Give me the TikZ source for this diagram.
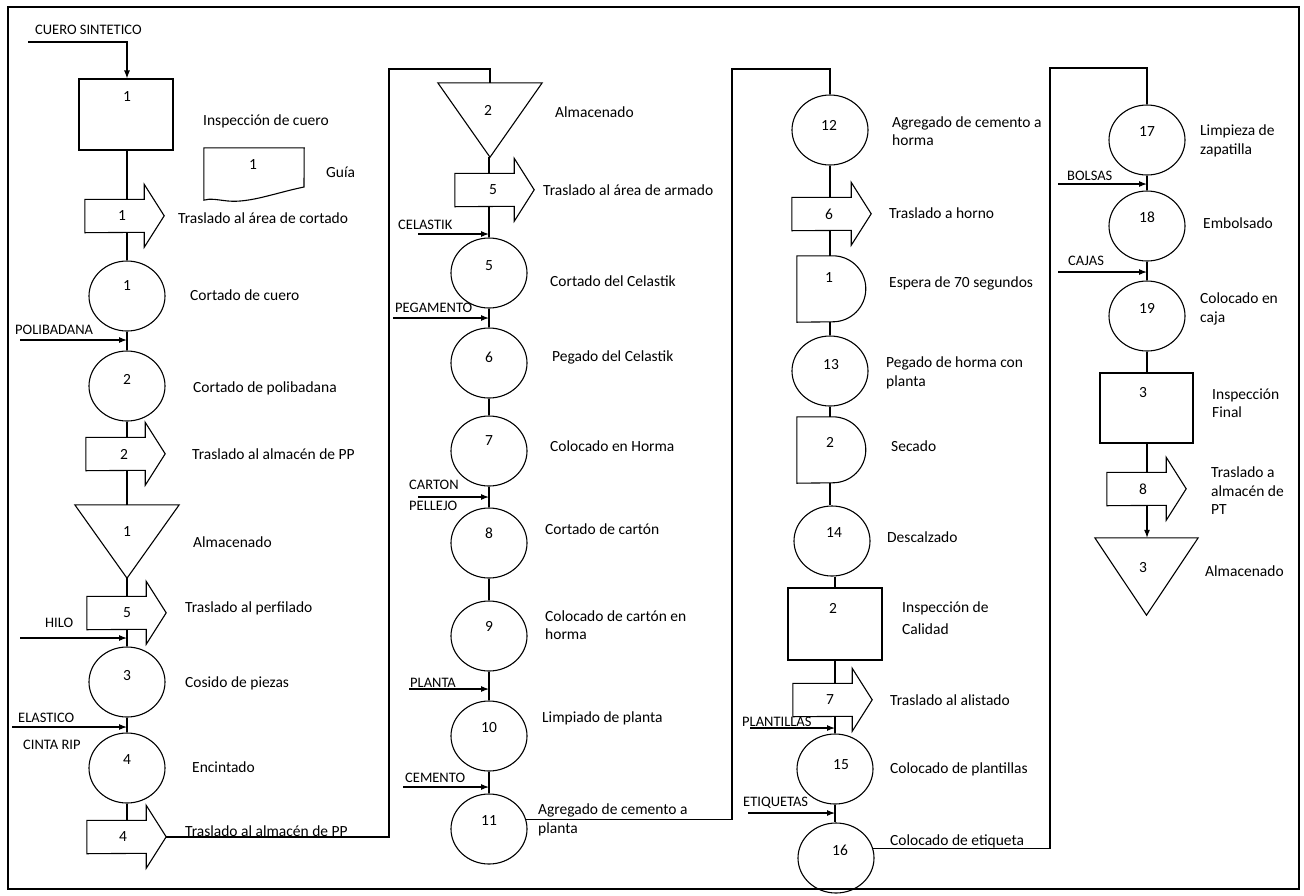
\documentclass[tikz,border=0pt]{standalone}
\usepackage{fontspec}
\setmainfont{Carlito}
\usetikzlibrary{arrows.meta,shapes.geometric,calc}

\newcommand{\flowfont}{\fontsize{15.5}{18.5}\selectfont}
\newcommand{\capfont}{\fontsize{14.5}{17}\selectfont}

\tikzset{
  flow/.style={draw=black, line width=1.1pt},
  frame/.style={draw=black, line width=1.3pt},
  inarrow/.style={flow, -{Latex[length=8pt,width=6pt]}},
  opcirc/.style={ellipse, draw=black, line width=1.1pt, minimum width=76pt, minimum height=70pt, inner sep=0pt},
  inspbox/.style={rectangle, draw=black, line width=1.1pt, minimum width=94pt, minimum height=71pt, inner sep=0pt},
  abody/.style={rectangle, draw=none, minimum width=59pt, minimum height=33pt, inner sep=0pt},
  sbox/.style={rectangle, draw=none, inner sep=0pt},
  dbox/.style={rectangle, draw=none, minimum width=69pt, minimum height=66pt, inner sep=0pt},
  docbox/.style={rectangle, draw=none, minimum width=100pt, minimum height=52pt, inner sep=0pt},
  txt/.style={anchor=west, inner sep=0pt, align=left, font=\flowfont},
  captxt/.style={anchor=west, inner sep=0pt, align=left, font=\capfont},
  num/.style={inner sep=0pt, font=\flowfont},
}

% transport arrow: name, body centre x, centre y, number x, number
\newcommand{\movearrow}[5]{%
  \node[abody] (#1) at (#2,#3) {};
  \draw[flow] (#1.north west) -- (#1.north east) -- ++(0,-15) -- ++(20,31.5)
    -- ++(-20,31.5) -- ++(0,-15) -- (#1.south west) -- cycle;
  \coordinate (#1 tip) at ([xshift=20pt]#1.east);
  \node[num] at (#4,#3) {#5};
}
% storage triangle: name, centre x, centre y, width, height
\newcommand{\storeshape}[5]{%
  \node[sbox, minimum width=#4pt, minimum height=#5pt] (#1) at (#2,#3) {};
  \draw[flow] (#1.north west) -- (#1.north east) -- (#1.south) -- cycle;
}
% delay shape: name, centre x, centre y
\newcommand{\delayshape}[3]{%
  \node[dbox] (#1) at (#2,#3) {};
  \draw[flow] (#1.north west) -- ++(36,0) arc[start angle=-90, end angle=90, radius=33]
    -- (#1.south west) -- cycle;
}

\begin{document}
\begin{tikzpicture}[x=1pt,y=-1pt]
\useasboundingbox (0,0) rectangle (1304,895);
\draw[frame] (8,7) rectangle (1299,889);

% column axes
\coordinate (ax1) at (127,0);
\coordinate (ax2) at (489,0);
\coordinate (ax3) at (830,0);
\coordinate (ax3b) at (835,0);
\coordinate (ax4) at (1147,0);

% ---------------- column 1 ----------------
\node[captxt] (lCuero) at (35,30) {CUERO SINTETICO};
\coordinate (inCuero) at (28,42);
\node[inspbox] (box1) at (126,114.5) {};
\node[num] at (127,97) {1};
\node[txt] at (203,121) {Inspección de cuero};

\node[docbox] (doc1) at (254,174) {};
\draw[flow] (doc1.north west) -- (doc1.north east) -- (304,187)
  .. controls (275,193) and (250,203) .. (228,201)
  .. controls (218,200) and (210,198) .. (doc1.south west) -- cycle;
\node[num] at (253,165) {1};
\node[txt] at (326,172) {Guía};

\movearrow{a1}{114.5}{216}{122}{1}
\node[txt] at (178,218) {Traslado al área de cortado};

\node[opcirc] (c1) at (127,296) {};
\node[num] at (127,286) {1};
\node[txt] at (190,295) {Cortado de cuero};

\node[captxt] at (15,330) {POLIBADANA};
\coordinate (inPoli) at (20,340);

\node[opcirc] (c2) at (127,386) {};
\node[num] at (127,379) {2};
\node[txt] at (193,388) {Cortado de polibadana};

\movearrow{a2}{115.5}{454}{124}{2}
\node[txt] at (192,454) {Traslado al almacén de PP};

\storeshape{s1}{127}{541.5}{104}{73}
\node[num] at (127,532) {1};
\node[txt] at (193,542) {Almacenado};

\movearrow{a3}{116.5}{613}{127}{5}
\node[txt] at (185,608) {Traslado al perfilado};

\node[captxt] at (45,623) {HILO};
\coordinate (inHilo) at (20,638);

\node[opcirc] (c3) at (127,682) {};
\node[num] at (127,676) {3};
\node[txt] at (185,683) {Cosido de piezas};

\node[captxt] at (18,718) {ELASTICO};
\coordinate (inElas) at (12,727);
\node[captxt] at (23,745) {CINTA RIP};

\node[opcirc] (c4) at (127,768) {};
\node[num] at (127,760) {4};
\node[txt] at (192,767) {Encintado};

\movearrow{a4}{116.5}{837}{123}{4}
\node[txt] at (185,831) {Traslado al almacén de PP};
\coordinate (loopA) at (389,69);

% ---------------- column 2 ----------------
\storeshape{s2}{490}{120}{104}{74}
\node[num] at (488,110) {2};
\node[txt] at (555,112) {Almacenado};

\movearrow{a5}{484.5}{190}{493}{5}
\node[txt] at (543,190) {Traslado al área de armado};

\node[captxt] at (398,225) {CELASTIK};
\coordinate (inCel) at (418,234);

\node[opcirc] (c5) at (489,273) {};
\node[num] at (489,266) {5};
\node[txt] at (550,281) {Cortado del Celastik};

\node[captxt] at (395,308) {PEGAMENTO};
\coordinate (inPeg) at (393,318);

\node[opcirc] (c6) at (489,363) {};
\node[num] at (489,357) {6};
\node[txt] at (552,357) {Pegado del Celastik};

\node[opcirc] (c7) at (489,451) {};
\node[num] at (489,441) {7};
\node[txt] at (550,446) {Colocado en Horma};

\node[captxt] at (409,485) {CARTON};
\node[captxt] at (409,506) {PELLEJO};
\coordinate (inCart) at (418,497);

\node[opcirc] (c8) at (489,543) {};
\node[num] at (489,533) {8};
\node[txt] at (545,529) {Cortado de cartón};

\node[opcirc] (c9) at (489,636) {};
\node[num] at (489,626) {9};
\node[txt] at (545,625) {Colocado de cartón en\\horma};

\node[captxt] at (410,683) {PLANTA};
\coordinate (inPlan) at (409,689);

\node[opcirc] (c10) at (489,736) {};
\node[num] at (489,728) {10};
\node[txt] at (542,718) {Limpiado de planta};

\node[captxt] at (405,778) {CEMENTO};
\coordinate (inCem) at (403,787);

\node[opcirc] (c11) at (489,829) {};
\node[num] at (489,820) {11};
\node[txt] at (538,820) {Agregado de cemento a\\planta};
\coordinate (loopB) at (732,69);

% ---------------- column 3 ----------------
\node[opcirc] (c12) at (830,130) {};
\node[num] at (829,125) {12};
\node[txt] at (892,131) {Agregado de cemento a\\horma};

\movearrow{a6}{821.5}{214}{829}{6}
\node[txt] at (889,213) {Traslado a horno};

\delayshape{d1}{831.5}{289}
\node[num] at (829,278) {1};
\node[txt] at (889,283) {Espera de 70 segundos};

\node[opcirc] (c13) at (830,371) {};
\node[num] at (831,365) {13};
\node[txt] at (886,373) {Pegado de horma con\\planta};

\delayshape{d2}{831.5}{450}
\node[num] at (830,442) {2};
\node[txt] at (891,446) {Secado};

\node[opcirc] (c14) at (832,541) {};
\node[num] at (834,533) {14};
\node[txt] at (887,537) {Descalzado};

\node[inspbox, minimum height=72pt] (box2) at (835,624) {};
\node[num] at (833,608) {2};
\node[txt] at (902,618) {Inspección de\\[3pt]Calidad};

\movearrow{a7}{822.5}{700}{830}{7}
\node[txt] at (890,700) {Traslado al alistado};

\node[captxt] at (742,722) {PLANTILLAS};
\coordinate (inPlt) at (750,728);

\node[opcirc] (c15) at (835,769) {};
\node[num] at (841,765) {15};
\node[txt] at (890,769) {Colocado de plantillas};

\node[captxt] at (743,803) {ETIQUETAS};
\coordinate (inEti) at (748,813);

\node[opcirc] (c16) at (836,858) {};
\node[num] at (840,850) {16};
\node[txt] at (890,841) {Colocado de etiqueta};
\coordinate (loopC) at (1050,68);

% ---------------- column 4 ----------------
\node[opcirc] (c17) at (1147,140) {};
\node[num] at (1147,132) {17};
\node[txt] at (1200,141) {Limpieza de\\zapatilla};

\node[captxt] at (1067,176) {BOLSAS};
\coordinate (inBol) at (1058,184);

\node[opcirc] (c18) at (1147,226) {};
\node[num] at (1147,217) {18};
\node[txt] at (1203,223) {Embolsado};

\node[captxt] at (1068,261) {CAJAS};
\coordinate (inCaj) at (1058,272);

\node[opcirc] (c19) at (1147,316) {};
\node[num] at (1147,308) {19};
\node[txt] at (1200,309) {Colocado en\\caja};

\node[inspbox, minimum width=93pt, minimum height=70pt] (box3) at (1146.5,408) {};
\node[num] at (1143,393) {3};
\node[txt] at (1212,403) {Inspección\\Final};

\movearrow{a8}{1136.5}{489}{1143}{8}
\node[txt] at (1211,491) {Traslado a\\almacén de\\PT};

\storeshape{s3}{1146.5}{576.5}{103}{77}
\node[num] at (1143,568) {3};
\node[txt] at (1205,571) {Almacenado};

% ---------------- connectors ----------------
\draw[inarrow] (inCuero) -| (box1.north -| ax1);
\draw[flow] (box1.south -| ax1) -- (a1.north -| ax1);
\draw[flow] (a1.south -| ax1) -- (c1.north -| ax1);
\draw[flow] (c1.south -| ax1) -- (c2.north -| ax1);
\draw[inarrow] (inPoli) -- (inPoli -| ax1);
\draw[flow] (c2.south -| ax1) -- (a2.north -| ax1);
\draw[flow] (a2.south -| ax1) -- (s1.north -| ax1);
\draw[flow] (s1.south -| ax1) -- (a3.north -| ax1);
\draw[flow] (a3.south -| ax1) -- (c3.north -| ax1);
\draw[inarrow] (inHilo) -- (inHilo -| ax1);
\draw[flow] (c3.south -| ax1) -- (c4.north -| ax1);
\draw[inarrow] (inElas) -- (inElas -| ax1);
\draw[flow] (c4.south -| ax1) -- (a4.north -| ax1);
\draw[flow] (a4 tip) -| (loopA) -| (s2.north);

\draw[flow] (s2.south -| ax2) -- (a5.north -| ax2);
\draw[flow] (a5.south -| ax2) -- (c5.north -| ax2);
\draw[inarrow] (inCel) -- (inCel -| ax2);
\draw[flow] (c5.south -| ax2) -- (c6.north -| ax2);
\draw[inarrow] (inPeg) -- (inPeg -| ax2);
\draw[flow] (c6.south -| ax2) -- (c7.north -| ax2);
\draw[flow] (c7.south -| ax2) -- (c8.north -| ax2);
\draw[inarrow] (inCart) -- (inCart -| ax2);
\draw[flow] (c8.south -| ax2) -- (c9.north -| ax2);
\draw[flow] (c9.south -| ax2) -- (c10.north -| ax2);
\draw[inarrow] (inPlan) -- (inPlan -| ax2);
\draw[flow] (c10.south -| ax2) -- (c11.north -| ax2);
\draw[inarrow] (inCem) -- (inCem -| ax2);
\draw[flow] (c11.14) -| (loopB) -| (c12.north);

\draw[flow] (c12.south -| ax3) -- (a6.north -| ax3);
\draw[flow] (a6.south -| ax3) -- (d1.north -| ax3);
\draw[flow] (d1.south -| ax3) -- (c13.north -| ax3);
\draw[flow] (c13.south -| ax3) -- (d2.north -| ax3);
\draw[flow] (d2.south -| ax3) -- (c14.north -| ax3);
\draw[flow] (c14.south -| ax3b) -- (box2.north -| ax3b);
\draw[flow] (box2.south -| ax3b) -- (a7.north -| ax3b);
\draw[flow] (a7.south -| ax3b) -- (c15.north -| ax3b);
\draw[inarrow] (inPlt) -- (inPlt -| ax3b);
\draw[flow] (c15.south -| ax3b) -- (c16.north -| ax3b);
\draw[inarrow] (inEti) -- (inEti -| ax3b);
\draw[flow] (c16.15) -| (loopC) -| (c17.north);

\draw[flow] (c17.south -| ax4) -- (c18.north -| ax4);
\draw[inarrow] (inBol) -- (inBol -| ax4);
\draw[flow] (c18.south -| ax4) -- (c19.north -| ax4);
\draw[inarrow] (inCaj) -- (inCaj -| ax4);
\draw[flow] (c19.south -| ax4) -- (box3.north -| ax4);
\draw[flow] (box3.south -| ax4) -- (a8.north -| ax4);
\draw[inarrow] (a8.south -| ax4) -- (s3.north -| ax4);
\end{tikzpicture}
\end{document}
